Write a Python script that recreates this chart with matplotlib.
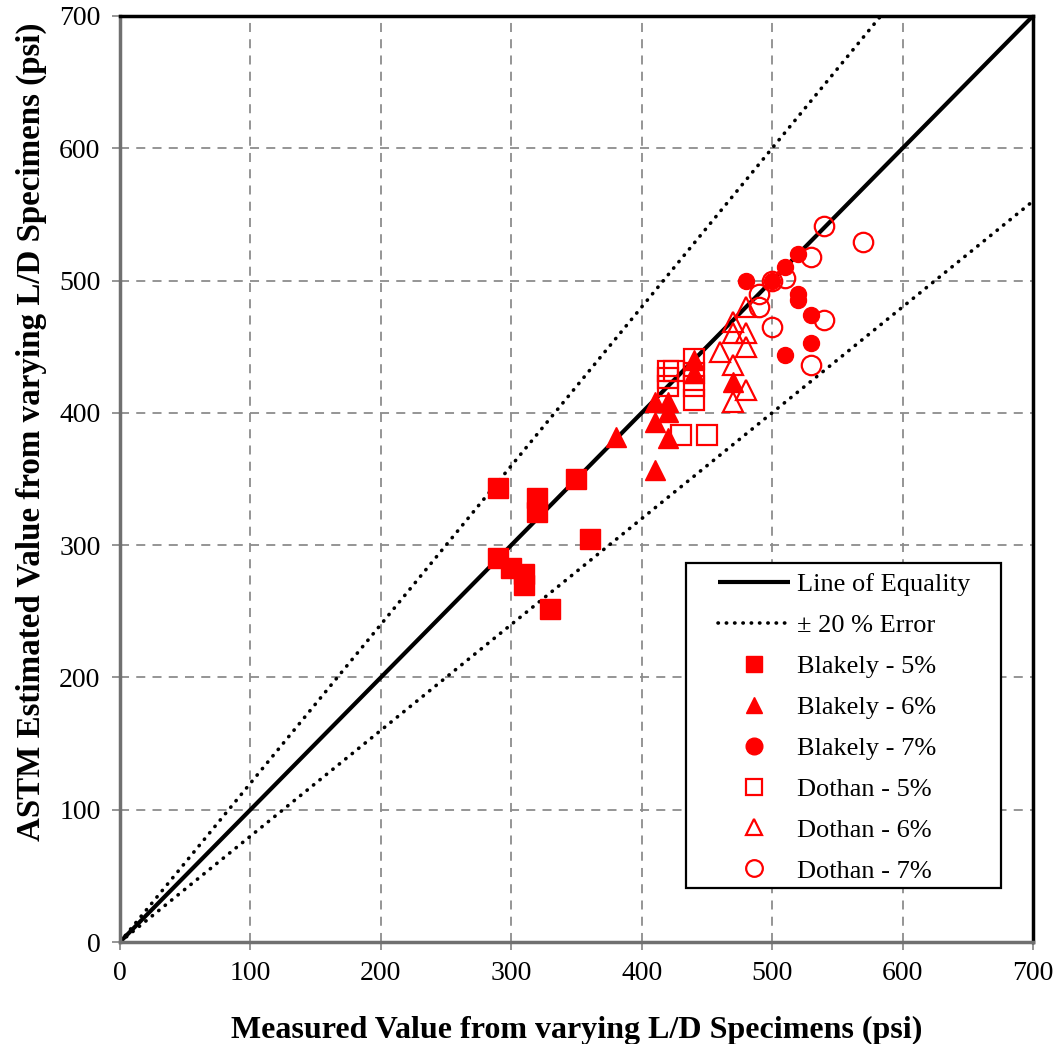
import matplotlib
matplotlib.use("Agg")
import matplotlib.pyplot as plt
from matplotlib.patches import Rectangle
import numpy as np

plt.rcParams['font.family'] = ['Liberation Serif', 'DejaVu Serif']

# Measured (x) vs ASTM estimated (y) strengths, psi
blakely5_x = [290, 290, 300, 310, 310, 320, 320, 330, 350, 360]
blakely5_y = [343, 290, 283, 278, 270, 336, 325, 252, 350, 305]

blakely6_x = [380, 410, 410, 410, 420, 420, 420, 440, 440, 470]
blakely6_y = [382, 408, 393, 357, 408, 401, 381, 440, 430, 423]

blakely7_x = [480, 500, 510, 520, 520, 520, 530, 530, 510]
blakely7_y = [500, 500, 510, 520, 490, 485, 474, 453, 444]

dothan5_x = [420, 425, 420, 420, 440, 440, 440, 440, 430, 450]
dothan5_y = [432, 432, 426, 420, 441, 430, 420, 410, 383, 383]

dothan6_x = [460, 470, 470, 470, 470, 480, 480, 480, 480]
dothan6_y = [446, 469, 460, 436, 408, 480, 460, 450, 417]

dothan7_x = [490, 490, 500, 500, 510, 530, 530, 540, 540, 570]
dothan7_y = [490, 480, 500, 465, 502, 518, 436, 541, 470, 529]

x_ticks = [0, 100, 200, 300, 400, 500, 600, 700]
y_ticks = [0, 100, 200, 300, 400, 500, 600, 700]

fig = plt.figure(figsize=(10.59, 10.44), dpi=100)
ax = fig.add_axes([0.1133, 0.0977, 0.8621, 0.887])

ax.set_xlim(0, 700)
ax.set_ylim(0, 700)
ax.set_xticks(x_ticks)
ax.set_yticks(y_ticks)
ax.grid(True, color='#8c8c8c', linestyle=(0, (5, 4)), linewidth=1.3)
ax.set_axisbelow(True)

for side in ['top', 'right']:
    ax.spines[side].set_color('black')
    ax.spines[side].set_linewidth(2.5)
for side in ['left', 'bottom']:
    ax.spines[side].set_color('#707070')
    ax.spines[side].set_linewidth(2.5)
ax.tick_params(axis='both', direction='out', length=6, width=1.3, color='#8c8c8c',
               labelsize=20, pad=8)

ref = np.array([0, 700])
ax.plot(ref, ref, color='black', linewidth=3, solid_capstyle='butt', label='Line of Equality')
ax.plot(ref, 1.2 * ref, color='black', linewidth=2.6, linestyle=(0, (0.1, 2.2)),
        dash_capstyle='round', label='± 20 % Error')
ax.plot(ref, 0.8 * ref, color='black', linewidth=2.6, linestyle=(0, (0.1, 2.2)),
        dash_capstyle='round')

red = '#ff0000'
ax.plot(blakely5_x, blakely5_y, 's', ms=14.5, color=red, mec=red, label='Blakely - 5%')
ax.plot(blakely6_x, blakely6_y, '^', ms=15, color=red, mec=red, label='Blakely - 6%')
ax.plot(blakely7_x, blakely7_y, 'o', ms=11.5, color=red, mec=red, label='Blakely - 7%')
ax.plot(dothan5_x, dothan5_y, 's', ms=14, mfc='none', mec=red, mew=1.6, label='Dothan - 5%')
ax.plot(dothan6_x, dothan6_y, '^', ms=15, mfc='none', mec=red, mew=1.6, label='Dothan - 6%')
ax.plot(dothan7_x, dothan7_y, 'o', ms=14, mfc='none', mec=red, mew=1.6, label='Dothan - 7%')

ax.set_xlabel('Measured Value from varying L/D Specimens (psi)', fontsize=23,
              fontweight='bold', labelpad=21)
ax.set_ylabel('ASTM Estimated Value from varying L/D Specimens (psi)', fontsize=23.8,
              fontweight='bold')
ax.yaxis.set_label_coords(-0.08, 0.551)

# legend box drawn separately so the entries can sit inset from the frame
ax.add_patch(Rectangle((0.620, 0.0583), 0.345, 0.351, transform=ax.transAxes,
                       facecolor='white', edgecolor='black', linewidth=1.6, zorder=5))
leg = ax.legend(loc='upper left', bbox_to_anchor=(0.655, 0.3986),
                fontsize=19, frameon=False, borderpad=0, labelspacing=0.66,
                handlelength=2.73, handletextpad=0.25, borderaxespad=0)
leg.set_zorder(6)
for h in leg.legend_handles[2:]:
    h.set_markersize(12)

fig.savefig('out.png', dpi=100)
